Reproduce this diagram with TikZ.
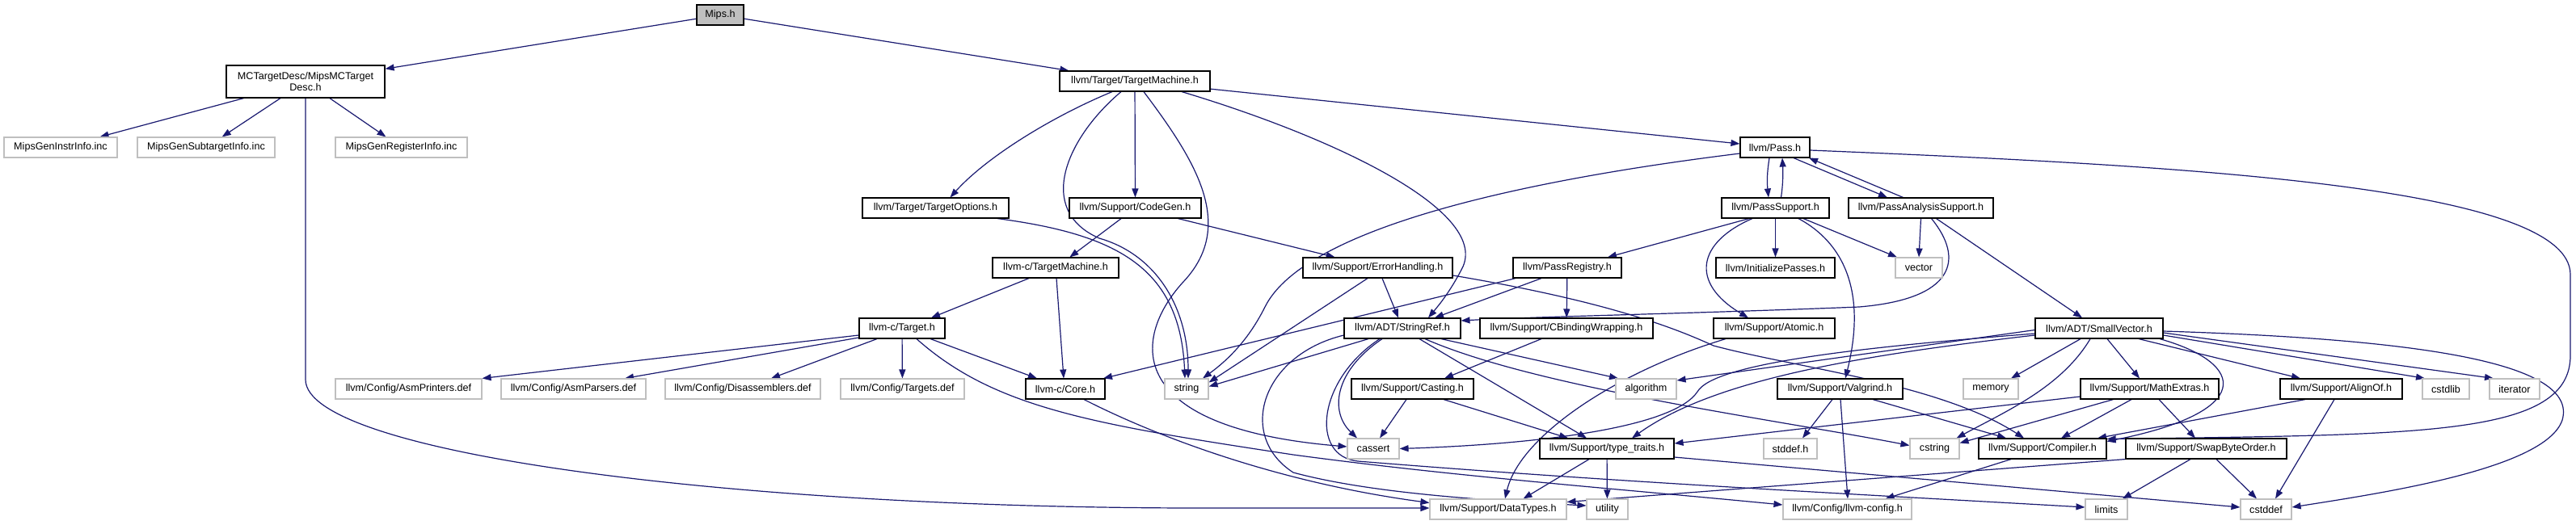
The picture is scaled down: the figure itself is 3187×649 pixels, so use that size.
\documentclass[tikz,border=0pt]{standalone}
\usepackage{fontspec}
\setmainfont{Liberation Sans}
\usetikzlibrary{arrows.meta,backgrounds}
\definecolor{edgecol}{HTML}{191970}
\definecolor{greyb}{HTML}{BFBFBF}
\newcommand\nodefont{\fontsize{12.6}{14}\selectfont}
\begin{document}
\begin{tikzpicture}[x=1pt,y=-1pt,
  nb/.style={draw=black, line width=1.1pt, fill=white, inner sep=0pt, minimum height=25pt, font=\nodefont, text=black},
  ng/.style={nb, draw=greyb},
  e/.style={draw=edgecol, line width=1.2pt, -{Triangle[length=11pt,width=8pt]}}]
\useasboundingbox (0,0) rectangle (3187,649);
% nodes
\node[nb, fill=greyb, minimum width=58pt] (mips) at (891,18.5) {Mips.h};
\node[nb, minimum width=196pt, minimum height=40pt, align=center] (mctd) at (378,101) {MCTargetDesc/MipsMCTarget\\Desc.h};
\node[ng, minimum width=140pt] (gInstr) at (75,182.5) {MipsGenInstrInfo.inc};
\node[ng, minimum width=170pt] (gSub) at (255,182.5) {MipsGenSubtargetInfo.inc};
\node[ng, minimum width=163pt] (gReg) at (496.5,182.5) {MipsGenRegisterInfo.inc};
\node[nb, minimum width=186pt] (tm) at (1404,100.5) {llvm/Target/TargetMachine.h};
\node[nb, minimum width=181pt] (topt) at (1157.5,257.5) {llvm/Target/TargetOptions.h};
\node[nb, minimum width=163pt] (codegen) at (1404.5,257.5) {llvm/Support/CodeGen.h};
\node[nb, minimum width=86pt] (pass) at (2196,182.5) {llvm/Pass.h};
\node[nb, minimum width=133pt] (psup) at (2196.5,257.5) {llvm/PassSupport.h};
\node[nb, minimum width=179pt] (pas) at (2376.5,257.5) {llvm/PassAnalysisSupport.h};
\node[nb, minimum width=156pt] (ctm) at (1306,331.5) {llvm-c/TargetMachine.h};
\node[nb, minimum width=185pt] (eh) at (1704.5,331.5) {llvm/Support/ErrorHandling.h};
\node[nb, minimum width=134pt] (preg) at (1939,331.5) {llvm/PassRegistry.h};
\node[nb, minimum width=147pt] (initp) at (2196.5,331.5) {llvm/InitializePasses.h};
\node[ng, minimum width=58pt] (vector) at (2374,331.5) {vector};
\node[nb, minimum width=106pt] (ctarget) at (1116,406.5) {llvm-c/Target.h};
\node[nb, minimum width=144pt] (sref) at (1735,406.5) {llvm/ADT/StringRef.h};
\node[nb, minimum width=214pt] (cbw) at (1938,406.5) {llvm/Support/CBindingWrapping.h};
\node[nb, minimum width=150pt] (atomic) at (2195,406.5) {llvm/Support/Atomic.h};
\node[nb, minimum width=158pt] (svec) at (2597,406.5) {llvm/ADT/SmallVector.h};
\node[ng, minimum width=181pt] (asmprint) at (505.5,481.5) {llvm/Config/AsmPrinters.def};
\node[ng, minimum width=179pt] (asmpars) at (709.5,481.5) {llvm/Config/AsmParsers.def};
\node[ng, minimum width=192pt] (disasm) at (919,481.5) {llvm/Config/Disassemblers.def};
\node[ng, minimum width=153pt] (targets) at (1116.5,481.5) {llvm/Config/Targets.def};
\node[nb, minimum width=98pt] (core) at (1318,481.5) {llvm-c/Core.h};
\node[ng, minimum width=54pt] (string) at (1468,481.5) {string};
\node[nb, minimum width=151pt] (casting) at (1747.5,481.5) {llvm/Support/Casting.h};
\node[ng, minimum width=75pt] (algorithm) at (2036.5,481.5) {algorithm};
\node[nb, minimum width=155pt] (valgrind) at (2276.5,481.5) {llvm/Support/Valgrind.h};
\node[ng, minimum width=68pt] (memory) at (2463,481.5) {memory};
\node[nb, minimum width=171pt] (mathex) at (2659.5,481.5) {llvm/Support/MathExtras.h};
\node[nb, minimum width=151pt] (alignof) at (2896.5,481.5) {llvm/Support/AlignOf.h};
\node[ng, minimum width=58pt] (cstdlib) at (3026,481.5) {cstdlib};
\node[ng, minimum width=62pt] (iterator) at (3111,481.5) {iterator};
\node[ng, minimum width=64pt] (cassert) at (1699,555.5) {cassert};
\node[nb, minimum width=166pt] (ttraits) at (1988,555.5) {llvm/Support/type\_traits.h};
\node[ng, minimum width=66pt] (stddef) at (2215,555.5) {stddef.h};
\node[ng, minimum width=61pt] (cstring) at (2393.5,555.5) {cstring};
\node[nb, minimum width=158pt] (compiler) at (2527,555.5) {llvm/Support/Compiler.h};
\node[nb, minimum width=199pt] (swap) at (2729.5,555.5) {llvm/Support/SwapByteOrder.h};
\node[ng, minimum width=169pt] (datatypes) at (1853.5,630.5) {llvm/Support/DataTypes.h};
\node[ng, minimum width=51pt] (utility) at (1988.5,630.5) {utility};
\node[ng, minimum width=159pt] (llvmconfig) at (2285.5,630.5) {llvm/Config/llvm-config.h};
\node[ng, minimum width=52pt] (limits) at (2606,630.5) {limits};
\node[ng, minimum width=63pt] (cstddef) at (2803.5,630.5) {cstddef};
% edges
\begin{scope}[on background layer]
\fill[white] (0,0) rectangle (3187,649);
\draw[e] (mips) -- (mctd);
\draw[e] (mips) -- (tm);
\draw[e] (mctd) -- (gInstr);
\draw[e] (mctd) -- (gSub);
\draw[e] (mctd) -- (gReg);
\draw[e] (mctd.south) -- (378,470) .. controls (378,560) and (900,630) .. (1500,629) -- ([yshift=1.5]datatypes.west);
\draw[e] ([xshift=-28]tm.south) .. controls (1300,145) and (1220,195) .. ([xshift=18]topt.north);
\draw[e] (tm) -- (codegen);
\draw[e] (tm) -- (pass);
\draw[e] ([xshift=58]tm.south) .. controls (1650,170) and (1840,260) .. (1810,330) .. controls (1795,360) and (1780,378) .. ([xshift=32]sref.north);
\draw[e] ([xshift=-17]tm.south) .. controls (1320,170) and (1280,260) .. (1360,295) .. controls (1430,315) and (1470,380) .. ([xshift=2]string.north);
\draw[e] ([xshift=11]tm.south) .. controls (1480,200) and (1530,280) .. (1463,350) .. controls (1400,420) and (1390,530) .. ([yshift=2.5]cassert.west);
\draw[e] ([xshift=76.5]topt.south) .. controls (1380,290) and (1460,330) .. ([xshift=-2]string.north);
\draw[e] (codegen) -- (ctm);
\draw[e] (codegen) -- (eh);
\draw[e] ([xshift=-7]pass.south) .. controls (2186,215) and (2186,225) .. ([xshift=-8.5]psup.north);
\draw[e] ([xshift=7]psup.north) .. controls (2206,228) and (2206,212) .. ([xshift=9]pass.south);
\draw[e] ([xshift=23]pass.south) -- ([xshift=-41.5]pas.north);
\draw[e] ([xshift=-22]pas.north) -- ([xshift=42]pass.south);
\draw[e] ([yshift=-7.5]pass.west) .. controls (1950,215) and (1620,270) .. (1565,380) .. controls (1545,420) and (1520,445) .. ([xshift=20]string.north);
\draw[e] ([yshift=-3.5]pass.east) .. controls (2700,205) and (3180,230) .. (3180,340) -- (3180,440) .. controls (3180,540) and (3000,538) .. ([yshift=12]compiler.east);
\draw[e] ([xshift=-32.5]psup.south) -- ([xshift=50]preg.north);
\draw[e] ([xshift=-28.5]psup.south) .. controls (2100,300) and (2090,350) .. ([xshift=-32]atomic.north);
\draw[e] (psup) -- (initp);
\draw[e] ([xshift=28.5]psup.south) .. controls (2280,300) and (2310,360) .. ([xshift=6.5]valgrind.north);
\draw[e] ([xshift=34.5]psup.south) -- ([xshift=-27]vector.north);
\draw[e] (pas.south) -- (vector.north);
\draw[e] ([xshift=13]pas.south) .. controls (2430,320) and (2420,370) .. (2300,380) .. controls (2100,388) and (1900,392) .. ([yshift=9.5]sref.east);
\draw[e] ([xshift=19]pas.south) -- ([xshift=-21]svec.north);
\draw[e] ([xshift=-33]ctm.south) -- ([xshift=36]ctarget.north);
\draw[e] ([xshift=1]ctm.south) -- ([xshift=-2]core.north);
\draw[e] ([yshift=-8.5]ctarget.west) -- (asmprint.north east);
\draw[e] ([yshift=-11.5]ctarget.west) -- ([xshift=63.5]asmpars.north);
\draw[e] ([xshift=-31]ctarget.south) -- ([xshift=35]disasm.north);
\draw[e] (ctarget) -- (targets);
\draw[e] (ctarget) -- (core);
\draw[e] ([xshift=18]ctarget.south) .. controls (1230,505) and (1350,525) .. (1600,563) .. controls (1800,590) and (2000,605) .. ([yshift=5.5]llvmconfig.west);
\draw[e] ([xshift=23]core.south) .. controls (1450,550) and (1600,600) .. ([yshift=8]datatypes.west);
\draw[e] ([xshift=-32]preg.south) -- ([xshift=40]sref.north);
\draw[e] (preg) -- (cbw);
\draw[e] ([xshift=-64]preg.south) -- ([xshift=47]core.north);
\draw[e] ([xshift=-31]cbw.south) -- ([xshift=39.5]casting.north);
\draw[e] ([xshift=5.5]eh.south) -- ([xshift=-5]sref.north);
\draw[e] ([xshift=-12.5]eh.south) -- ([yshift=8]string.east);
\draw[e] ([yshift=-9.5]eh.east) .. controls (2000,375) and (2080,410) .. (2120,428) .. controls (2220,455) and (2400,475) .. ([xshift=-23]compiler.north);
\draw[e] ([xshift=-42]sref.south) -- ([yshift=3]string.east);
\draw[e] ([xshift=-25]sref.south) .. controls (1650,460) and (1645,510) .. ([xshift=-20]cassert.north);
\draw[e] ([xshift=-28]sref.south) .. controls (1630,470) and (1620,565) .. (1680,571) .. controls (2000,597) and (2300,612) .. ([yshift=2.5]limits.west);
\draw[e] ([yshift=-8.5]sref.west) .. controls (1560,440) and (1530,540) .. (1600,585) .. controls (1700,612) and (1850,620) .. ([yshift=4.5]utility.west);
\draw[e] ([xshift=48]sref.south) -- ([xshift=-34.5]algorithm.north);
\draw[e] ([xshift=21]sref.south) -- ([xshift=-25]ttraits.north);
\draw[e] ([xshift=28]sref.south) .. controls (1900,480) and (2200,520) .. ([yshift=4]cstring.west);
\draw[e] ([xshift=-7.5]casting.south) -- ([xshift=8]cassert.north);
\draw[e] ([xshift=38.5]casting.south) -- ([xshift=-48]ttraits.north);
\draw[e] ([xshift=-60]atomic.south) .. controls (2000,460) and (1880,540) .. ([xshift=8.5]datatypes.north);
\draw[e] ([xshift=-9.5]valgrind.south) -- ([xshift=15]stddef.north);
\draw[e] ([xshift=0.5]valgrind.south) -- ([xshift=0.5]llvmconfig.north);
\draw[e] ([xshift=40.5]valgrind.south) -- ([xshift=-45]compiler.north);
\draw[e] ([xshift=-22]ttraits.south) -- ([xshift=31]datatypes.north);
\draw[e] (ttraits) -- (utility);
\draw[e] ([yshift=-10.5]ttraits.east) -- ([yshift=2.5]cstddef.west);
\draw[e] ([xshift=-39]compiler.south) -- ([xshift=47]llvmconfig.north);
\draw[e] (swap.south west) -- ([yshift=9]datatypes.east);
\draw[e] ([xshift=-19.5]swap.south) -- ([xshift=20]limits.north);
\draw[e] ([xshift=12.5]swap.south) -- ([xshift=-11.5]cstddef.north);
\draw[e] ([xshift=11.5]mathex.south) -- ([xshift=-13.5]swap.north);
\draw[e] ([xshift=-22.5]mathex.south) -- ([xshift=23]compiler.north);
\draw[e] ([xshift=-45]mathex.south) -- ([yshift=7]cstring.east);
\draw[e] ([yshift=-9.5]mathex.west) -- ([yshift=6.5]ttraits.east);
\draw[e] ([xshift=-44.5]alignof.south) -- ([xshift=68]compiler.north);
\draw[e] ([xshift=-8.5]alignof.south) -- ([xshift=11.5]cstddef.north);
\draw[e] ([xshift=-23]svec.south) -- ([xshift=25]memory.north);
\draw[e] ([xshift=-11]svec.south) .. controls (2550,480) and (2480,510) .. ([xshift=-4]cstring.north east);
\draw[e] ([xshift=10]svec.south) -- ([xshift=-12.5]mathex.north);
\draw[e] ([xshift=49]svec.south) -- ([xshift=-50.5]alignof.north);
\draw[e] ([yshift=-8.5]svec.east) -- ([xshift=-26]cstdlib.north);
\draw[e] ([yshift=-5.5]svec.east) -- ([xshift=-26]iterator.north);
\draw[e] ([yshift=-3.5]svec.east) .. controls (3000,420) and (3190,450) .. (3170,520) .. controls (3150,580) and (2950,610) .. ([yshift=2.5]cstddef.east);
\draw[e] ([xshift=75]svec.south) .. controls (2780,450) and (2790,510) .. ([yshift=9]compiler.east);
\draw[e] ([yshift=-2]svec.west) -- ([yshift=10.5]algorithm.east);
\draw[e] ([yshift=-6.5]svec.west) .. controls (2300,430) and (2120,450) .. (2100,485) .. controls (2070,530) and (1900,550) .. (cassert.east);
\draw[e] ([yshift=-8.5]svec.west) .. controls (2300,440) and (2120,470) .. ([xshift=31]ttraits.north);
\end{scope}
\end{tikzpicture}
\end{document}
